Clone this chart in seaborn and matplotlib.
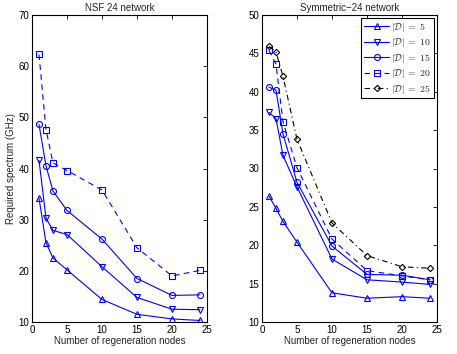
import numpy as np
import pandas as pd
import matplotlib
matplotlib.use("Agg")
import matplotlib.pyplot as plt
import seaborn as sns

# ---- data ----
x_nodes = [1, 2, 3, 5, 10, 15, 20, 24]
series_labels = ["5", "10", "15", "20", "25"]

nsf_d5 = [34.2, 25.5, 22.5, 20.2, 14.4, 11.5, 10.6, 10.3]
nsf_d10 = [41.6, 30.3, 27.9, 27.1, 20.8, 14.8, 12.5, 12.4]
nsf_d15 = [48.6, 40.5, 35.6, 31.8, 26.2, 18.5, 15.2, 15.3]
nsf_d20 = [62.3, 47.6, 41.1, 39.6, 35.8, 24.5, 19.0, 20.1]

sym_d5 = [26.4, 24.8, 23.1, 20.4, 13.8, 13.1, 13.3, 13.1]
sym_d10 = [37.3, 36.5, 31.7, 27.6, 18.2, 15.5, 15.2, 14.9]
sym_d15 = [40.6, 40.2, 34.5, 28.2, 19.9, 16.2, 16.1, 15.5]
sym_d20 = [45.4, 43.6, 36.1, 30.1, 20.8, 16.7, 16.0, 15.5]
sym_d25 = [45.9, 45.2, 42.0, 33.8, 22.9, 18.65, 17.2, 17.0]

titles = ["NSF 24 network", "Symmetric\u221224 network"]
xlabel = "Number of regeneration nodes"
ylabel = "Required spectrum (GHz)"

# ---- style ----
sns.set_theme(style="white")
plt.rcParams["font.family"] = ["Liberation Sans", "DejaVu Sans"]
plt.rcParams["mathtext.fontset"] = "cm"
plt.rcParams["font.size"] = 7

styles = {
    "5": dict(color="blue", marker="^", linestyle="-"),
    "10": dict(color="blue", marker="v", linestyle="-"),
    "15": dict(color="blue", marker="o", linestyle="-"),
    "20": dict(color="blue", marker="s", linestyle=(0, (5, 4))),
    "25": dict(color="black", marker="D", linestyle=(0, (5, 3, 1, 3))),
}

fig = plt.figure(figsize=(4.57, 3.54), dpi=100)
ax1 = fig.add_axes([32 / 457, 32 / 354, 175 / 457, 307 / 354])
ax2 = fig.add_axes([262 / 457, 32 / 354, 175 / 457, 307 / 354])

def draw(ax, data):
    for lab, vals in data:
        st = styles[lab]
        ms = 3.2 if st["marker"] == "D" else 4.3
        sns.lineplot(x=x_nodes, y=vals, ax=ax, color=st["color"],
                     marker=st["marker"], linestyle=st["linestyle"],
                     markerfacecolor="none", markeredgecolor=st["color"],
                     markeredgewidth=0.8, markersize=ms, linewidth=0.8,
                     label=r"$|\mathcal{D}|\;=\;" + lab + "$")

draw(ax1, [("5", nsf_d5), ("10", nsf_d10), ("15", nsf_d15), ("20", nsf_d20)])
draw(ax2, [("5", sym_d5), ("10", sym_d10), ("15", sym_d15), ("20", sym_d20), ("25", sym_d25)])

for ax, title in zip([ax1, ax2], titles):
    ax.set_xlim(0, 25)
    ax.set_xticks([0, 5, 10, 15, 20, 25])
    ax.set_title(title, fontsize=7, pad=3)
    ax.set_xlabel(xlabel, fontsize=7, labelpad=1)
    ax.tick_params(direction="in", top=True, right=True, length=3, width=0.6,
                   labelsize=7, pad=2, colors="black")
    for s in ax.spines.values():
        s.set_color("black")
        s.set_linewidth(0.8)

ax1.set_ylim(10, 70)
ax1.set_yticks(np.arange(10, 71, 10))
ax1.set_ylabel(ylabel, fontsize=7, labelpad=2)
ax1.get_legend().remove()

ax2.set_ylim(10, 50)
ax2.set_yticks(np.arange(10, 51, 5))
ax2.set_ylabel("")
leg = ax2.legend(loc="upper right", fontsize=7, frameon=True, fancybox=False,
                 edgecolor="black", framealpha=1, handlelength=2.6,
                 handletextpad=0.2, borderpad=0.3, labelspacing=0.25,
                 borderaxespad=0.3)
leg.get_frame().set_linewidth(0.8)

fig.savefig("out.png", dpi=100)
